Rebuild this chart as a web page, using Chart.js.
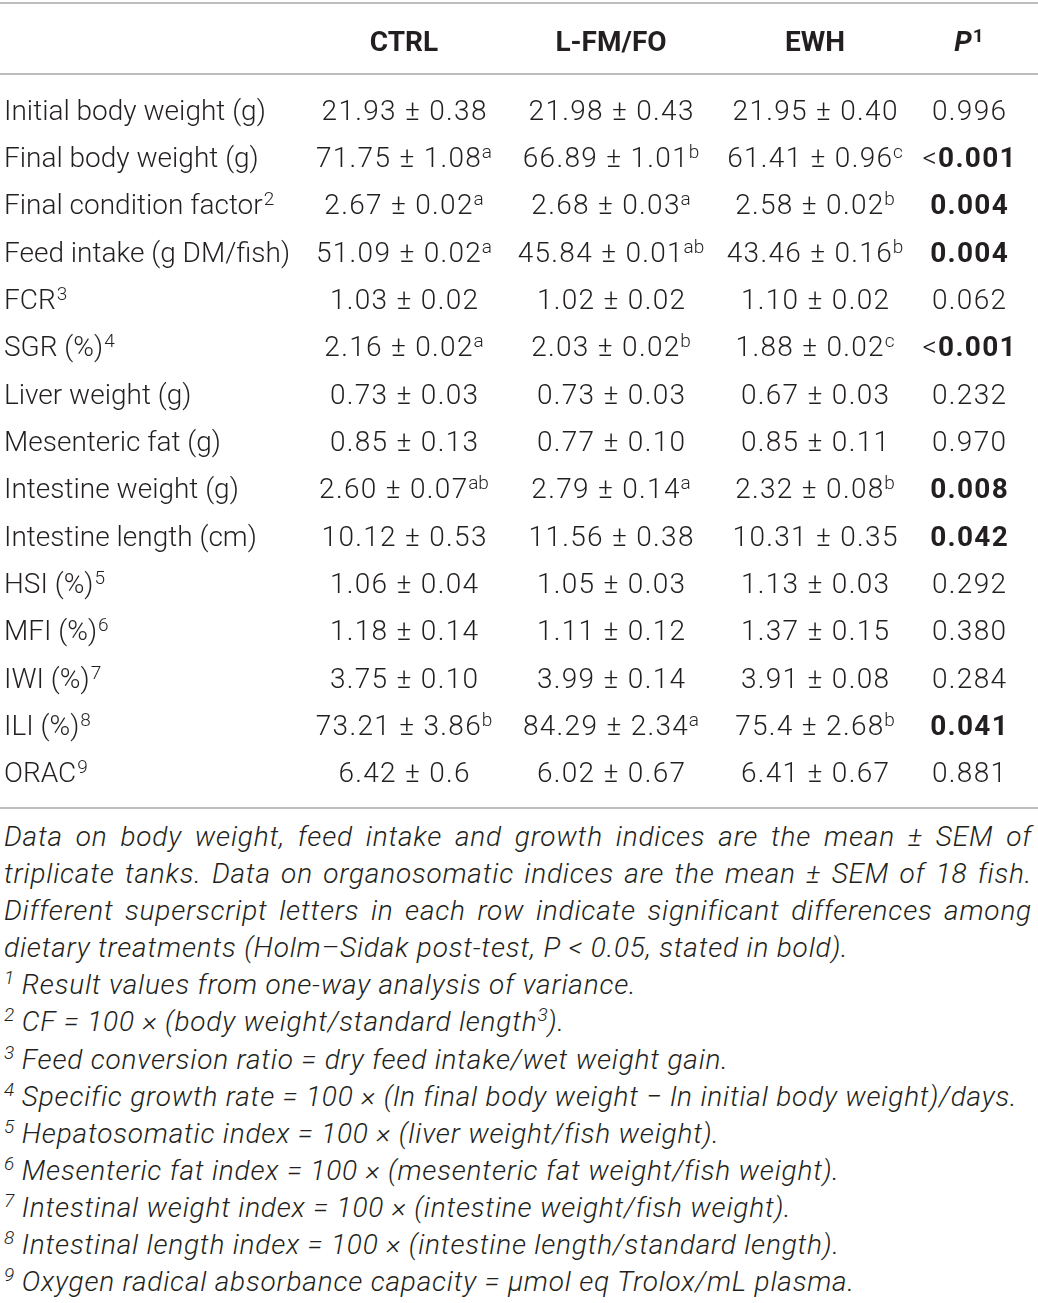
<!DOCTYPE html>
<html>
<head>
<meta charset="utf-8">
<title>Growth performance table</title>
<script src="https://cdn.jsdelivr.net/npm/chart.js@4.4.1/dist/chart.umd.min.js"></script>
<style>
  html, body { margin: 0; padding: 0; background: #fff; }
  #wrap { position: relative; width: 1038px; height: 1303px; }
  #table { position: absolute; left: 0; top: 0; }
  #notes {
    position: absolute; left: 4px; top: 818px; width: 1028px;
    font-family: Roboto, "Liberation Sans", sans-serif; font-weight: 300;
    font-style: italic; font-size: 28px; line-height: 37px; color: #231f20;
    letter-spacing: 0.8px;
  }
  #notes .j, #notes p { margin: 0; height: 37.1px; white-space: nowrap; overflow: visible; }
  #notes .j { text-align: justify; text-align-last: justify; }
  #notes sup { font-size: 19px; line-height: 0; vertical-align: 0; position: relative; top: -10px; letter-spacing: 0; }
</style>
</head>
<body>
<div id="wrap">
  <canvas id="table" width="1038" height="818"></canvas>
  <div id="notes">
    <div class="j">Data on body weight, feed intake and growth indices are the mean ± SEM of</div>
    <div class="j">triplicate tanks. Data on organosomatic indices are the mean ± SEM of 18 fish.</div>
    <div class="j">Different superscript letters in each row indicate significant differences among</div>
    <p>dietary treatments (Holm–Sidak post-test, P &lt; 0.05, stated in bold).</p>
    <p><sup>1</sup> Result values from one-way analysis of variance.</p>
    <p><sup>2</sup> CF = 100 × (body weight/standard length<sup>3</sup>).</p>
    <p><sup>3</sup> Feed conversion ratio = dry feed intake/wet weight gain.</p>
    <p><sup>4</sup> Specific growth rate = 100 × (ln final body weight − ln initial body weight)/days.</p>
    <p><sup>5</sup> Hepatosomatic index = 100 × (liver weight/fish weight).</p>
    <p><sup>6</sup> Mesenteric fat index = 100 × (mesenteric fat weight/fish weight).</p>
    <p><sup>7</sup> Intestinal weight index = 100 × (intestine weight/fish weight).</p>
    <p><sup>8</sup> Intestinal length index = 100 × (intestine length/standard length).</p>
    <p><sup>9</sup> Oxygen radical absorbance capacity = μmol eq Trolox/mL plasma.</p>
  </div>
</div>
<script>
// Table rows and cell values.
const ROW_LABELS = [
  "Initial body weight (g)", "Final body weight (g)", "Final condition factor",
  "Feed intake (g DM/fish)", "FCR", "SGR (%)", "Liver weight (g)", "Mesenteric fat (g)",
  "Intestine weight (g)", "Intestine length (cm)", "HSI (%)", "MFI (%)", "IWI (%)",
  "ILI (%)", "ORAC"
];
const ROW_NOTES = ["", "", "2", "", "3", "4", "", "", "", "", "5", "6", "7", "8", "9"];

const COLUMNS = ["CTRL", "L-FM/FO", "EWH"];

const CTRL = ["21.93 ± 0.38", "71.75 ± 1.08", "2.67 ± 0.02", "51.09 ± 0.02", "1.03 ± 0.02",
  "2.16 ± 0.02", "0.73 ± 0.03", "0.85 ± 0.13", "2.60 ± 0.07", "10.12 ± 0.53", "1.06 ± 0.04",
  "1.18 ± 0.14", "3.75 ± 0.10", "73.21 ± 3.86", "6.42 ± 0.6"];
const CTRL_SUP = ["", "a", "a", "a", "", "a", "", "", "ab", "", "", "", "", "b", ""];

const LFMFO = ["21.98 ± 0.43", "66.89 ± 1.01", "2.68 ± 0.03", "45.84 ± 0.01", "1.02 ± 0.02",
  "2.03 ± 0.02", "0.73 ± 0.03", "0.77 ± 0.10", "2.79 ± 0.14", "11.56 ± 0.38", "1.05 ± 0.03",
  "1.11 ± 0.12", "3.99 ± 0.14", "84.29 ± 2.34", "6.02 ± 0.67"];
const LFMFO_SUP = ["", "b", "a", "ab", "", "b", "", "", "a", "", "", "", "", "a", ""];

const EWH = ["21.95 ± 0.40", "61.41 ± 0.96", "2.58 ± 0.02", "43.46 ± 0.16", "1.10 ± 0.02",
  "1.88 ± 0.02", "0.67 ± 0.03", "0.85 ± 0.11", "2.32 ± 0.08", "10.31 ± 0.35", "1.13 ± 0.03",
  "1.37 ± 0.15", "3.91 ± 0.08", "75.4 ± 2.68", "6.41 ± 0.67"];
const EWH_SUP = ["", "c", "b", "b", "", "c", "", "", "b", "", "", "", "", "b", ""];

const P_VALUES = ["0.996", "<0.001", "0.004", "0.004", "0.062", "<0.001", "0.232", "0.970",
  "0.008", "0.042", "0.292", "0.380", "0.284", "0.041", "0.881"];

// Layout: x positions on a 0..1038 scale (label column is left edge, others are centres).
const LAYOUT = { labelX: 4, colX: [404, 611, 815, 969] };
const FONT_FAMILY = "Roboto, 'Liberation Sans', sans-serif";
const INK = "#231f20";
const RULE = "#a7a7a7";
const VALUE_SPACING = 1.3; // px between glyphs of the value cells

function $(id) { return document.getElementById(id); }

function isSignificant(p) {
  return parseFloat(p.replace("<", "")) < 0.05;
}

// Draws main text followed by a raised superscript; align = "left" | "center".
function drawSup(ctx, x, y, text, sup, opts) {
  const mainFont = (opts.weight || "300") + " " + (opts.italic ? "italic " : "") + "28px " + FONT_FAMILY;
  const supFont = (opts.supWeight || "300") + " 19px " + FONT_FAMILY;
  const spacing = opts.spacing || 0;
  ctx.letterSpacing = spacing + "px";
  ctx.font = mainFont;
  const w1 = ctx.measureText(text).width - spacing; // drop trailing spacing
  ctx.letterSpacing = "0px";
  ctx.font = supFont;
  const w2 = sup ? ctx.measureText(sup).width + 1 : 0;
  const x0 = opts.align === "center" ? x - (w1 + w2) / 2 : x;
  const base = y + 10;
  ctx.textAlign = "left";
  ctx.textBaseline = "alphabetic";
  ctx.fillStyle = INK;
  ctx.letterSpacing = spacing + "px";
  ctx.font = mainFont;
  ctx.fillText(text, x0, base);
  ctx.letterSpacing = "0px";
  if (sup) {
    ctx.font = supFont;
    ctx.fillText(sup, x0 + w1 + 1, base - 9);
  }
  return w1 + w2;
}

const tablePlugin = {
  id: "tableCells",
  afterDatasetsDraw(chart) {
    const ctx = chart.ctx;
    const area = chart.chartArea;
    const x = chart.scales.x;
    ctx.save();

    // horizontal rules
    ctx.strokeStyle = RULE;
    ctx.lineWidth = 1.3;
    [3, area.top - 12, area.bottom + 12].forEach((yy) => {
      ctx.beginPath();
      ctx.moveTo(0, yy);
      ctx.lineTo(chart.width, yy);
      ctx.stroke();
    });

    // column headers
    const headY = area.top - 45;
    COLUMNS.forEach((c, k) => {
      drawSup(ctx, x.getPixelForValue(LAYOUT.colX[k]), headY, c, "", { align: "center", weight: "bold" });
    });
    drawSup(ctx, x.getPixelForValue(LAYOUT.colX[3]), headY, "P", "1",
      { align: "center", weight: "bold", italic: true, supWeight: "bold" });

    // cells: one dataset per column, points placed by the scales
    const sp = VALUE_SPACING;
    chart.data.datasets.forEach((ds, di) => {
      const meta = chart.getDatasetMeta(di);
      meta.data.forEach((pt, i) => {
        const cell = ds.cells[i];
        if (ds.kind === "label") {
          drawSup(ctx, pt.x, pt.y, cell.text, cell.sup, { align: "left" });
        } else if (ds.kind === "p") {
          const bold = isSignificant(cell.text);
          if (cell.text.startsWith("<")) {
            ctx.letterSpacing = sp + "px";
            ctx.font = "300 28px " + FONT_FAMILY;
            const wl = ctx.measureText("<").width;
            ctx.font = "bold 28px " + FONT_FAMILY;
            const wn = ctx.measureText(cell.text.slice(1)).width - sp;
            ctx.letterSpacing = "0px";
            const x0 = pt.x - (wl + wn) / 2;
            drawSup(ctx, x0, pt.y, "<", "", { align: "left", spacing: sp });
            drawSup(ctx, x0 + wl, pt.y, cell.text.slice(1), "", { align: "left", weight: "bold", spacing: sp });
          } else {
            drawSup(ctx, pt.x, pt.y, cell.text, "", { align: "center", weight: bold ? "bold" : "300", spacing: sp });
          }
        } else {
          drawSup(ctx, pt.x, pt.y, cell.text, cell.sup, { align: "center", spacing: sp });
        }
      });
    });
    ctx.restore();
  }
};

function makeDataset(kind, xVal, texts, sups) {
  return {
    kind,
    data: ROW_LABELS.map((r) => ({ x: xVal, y: r })),
    cells: texts.map((t, i) => ({ text: t, sup: sups ? sups[i] : "" })),
    pointRadius: 0,
    pointHoverRadius: 0,
  };
}

function init() {
  new Chart($("table"), {
    type: "scatter",
    data: {
      datasets: [
        makeDataset("label", LAYOUT.labelX, ROW_LABELS, ROW_NOTES),
        makeDataset("value", LAYOUT.colX[0], CTRL, CTRL_SUP),
        makeDataset("value", LAYOUT.colX[1], LFMFO, LFMFO_SUP),
        makeDataset("value", LAYOUT.colX[2], EWH, EWH_SUP),
        makeDataset("p", LAYOUT.colX[3], P_VALUES, null),
      ],
    },
    options: {
      responsive: false,
      animation: false,
      devicePixelRatio: 1,
      events: [],
      layout: { padding: { top: 86, bottom: 22, left: 0, right: 0 } },
      plugins: { legend: { display: false }, tooltip: { enabled: false } },
      scales: {
        x: { type: "linear", min: 0, max: 1038, display: false },
        y: { type: "category", labels: ROW_LABELS, offset: true, display: false },
      },
    },
    plugins: [tablePlugin],
  });
}

document.addEventListener("DOMContentLoaded", init);
</script>
</body>
</html>
